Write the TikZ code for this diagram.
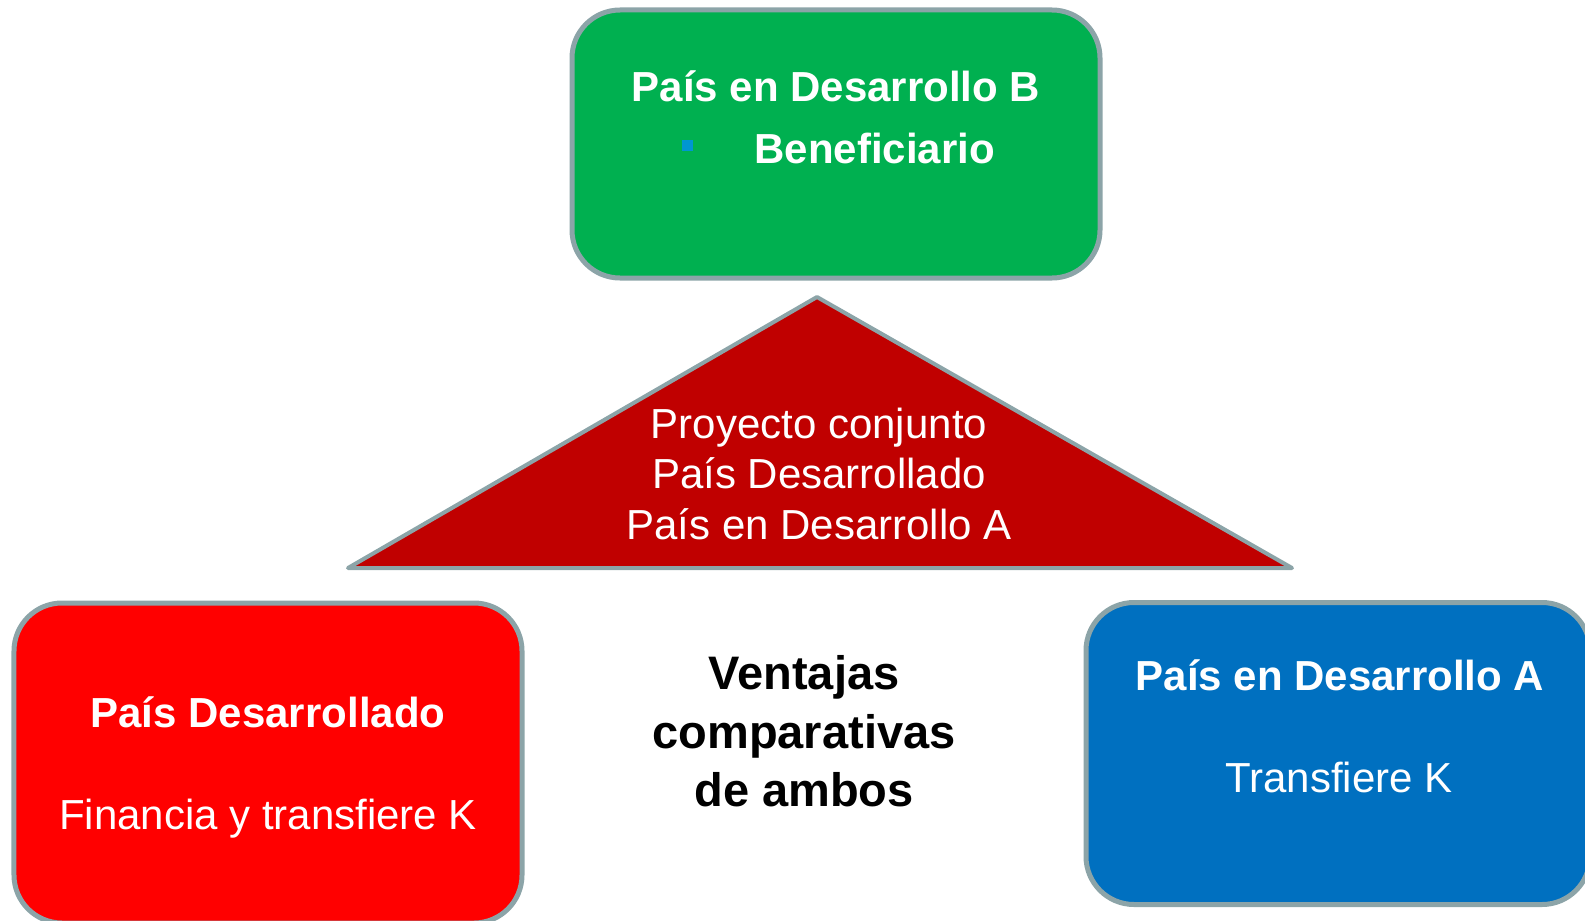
\documentclass[tikz,border=0pt]{standalone}
\usepackage{fontspec}
\setmainfont{Liberation Sans}
\usetikzlibrary{shapes.geometric,positioning}
\definecolor{boxgreen}{RGB}{0,176,80}
\definecolor{boxred}{RGB}{255,0,0}
\definecolor{boxblue}{RGB}{0,112,192}
\definecolor{trired}{RGB}{192,0,0}
\definecolor{edgegray}{RGB}{140,164,168}
\definecolor{bulletblue}{RGB}{0,150,210}

\begin{document}
\begin{tikzpicture}[x=1bp,y=-1bp,line join=round,
  box/.style={draw=edgegray,line width=5bp,rounded corners=48bp,inner sep=0pt},
  boldtxt/.style={text=white,font=\fontsize{42bp}{50bp}\selectfont\bfseries,anchor=base},
  plaintxt/.style={text=white,font=\fontsize{42bp}{50bp}\selectfont,anchor=base},
  bigtxt/.style={text=black,font=\fontsize{47bp}{58bp}\selectfont\bfseries,anchor=base},
]
\useasboundingbox (0,0) rectangle (1585,920);
%% boxes
\node (pdb) at (836,144) [box,fill=boxgreen,minimum width=528bp,minimum height=268bp] {};
\node (pd) at (268,763) [box,fill=boxred,minimum width=508bp,minimum height=320bp] {};
\node (pda) at (1338,753.5) [box,fill=boxblue,minimum width=504bp,minimum height=302bp] {};
%% project triangle
\coordinate (apex) at (817,297);
\coordinate (baseR) at (1292,568);
\coordinate (baseL) at (348,568);
\draw [draw=edgegray,fill=trired,line width=4bp] (apex) -- (baseR) -- (baseL) -- cycle;
%% texts
\node (pdbT) at (836,101) [boldtxt] {País en Desarrollo B};
\node (bul) at (687,145) [fill=bulletblue,minimum size=11bp,inner sep=0pt] {};
\node (pdbB) at (751,163) [boldtxt,anchor=base west] {Beneficiario};
\node (pdT) at (268,727) [boldtxt] {País Desarrollado};
\node (pdF) at (268,829) [plaintxt] {Financia y transfiere K};
\node (pdaT) at (1340,690) [boldtxt] {País en Desarrollo A};
\node (pdaF) at (1339,792) [plaintxt] {Transfiere K};
\node (pr1) at (819,438) [plaintxt] {Proyecto conjunto};
\node (pr2) at (819,488) [plaintxt] {País Desarrollado};
\node (pr3) at (819,539) [plaintxt] {País en Desarrollo A};
\node (vt1) at (804,689) [bigtxt] {Ventajas};
\node (vt2) at (804,748) [bigtxt] {comparativas};
\node (vt3) at (804,806) [bigtxt] {de ambos};
%
\end{tikzpicture}
\end{document}
